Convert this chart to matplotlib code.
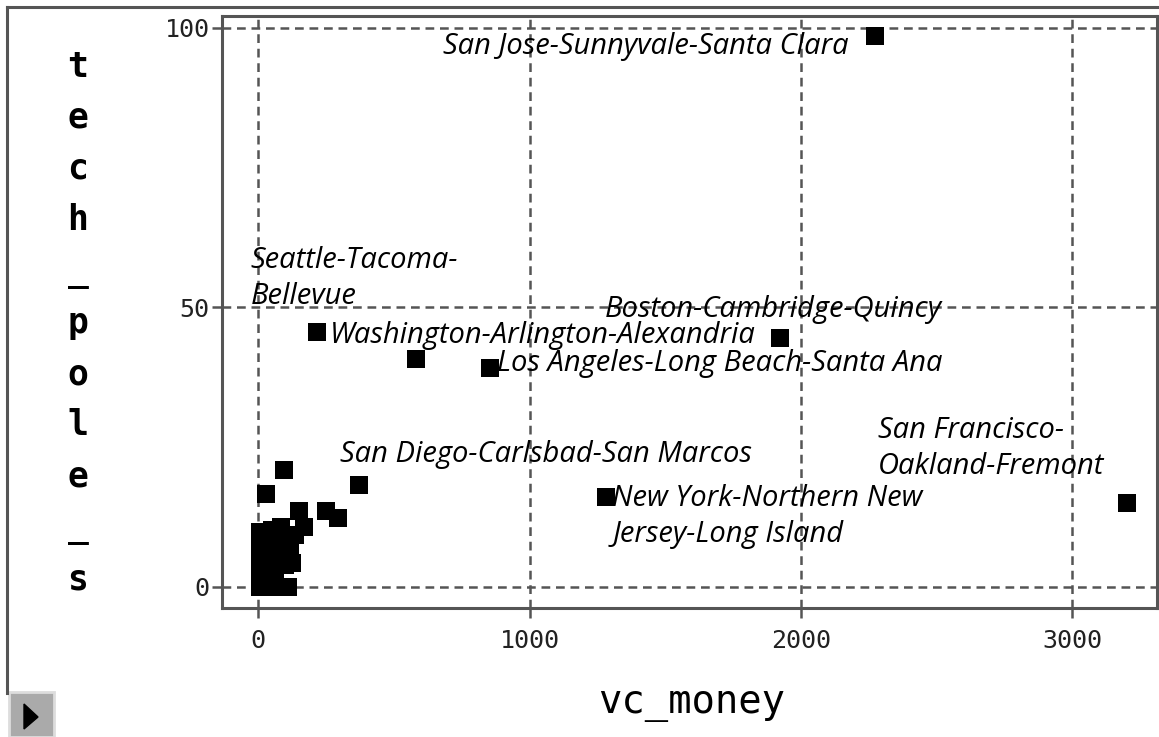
import numpy as np
import matplotlib.pyplot as plt
from matplotlib.patches import Rectangle, Polygon
from matplotlib.lines import Line2D

# vc_money vs tech_pole_s for metro areas
vc_money = [2274, 3203, 1924, 1283, 855, 217, 582, 372,
            96, 30, 151, 251, 295,
            7, 44, 81, 111, 7, 63, 7, 52, 100, 125, 7, 63, 118,
            7, 44, 92, 136, 7, 52, 85, 170, 26, 30, 15]
tech_pole = [98.6, 15.0, 44.5, 16.1, 39.2, 45.6, 40.8, 18.2,
             20.9, 16.6, 13.5, 13.5, 12.4,
             0, 0, 0, 0, 1.6, 1.6, 3.6, 3.9, 3.9, 4.3, 5.7, 6.3, 7.0,
             8.1, 8.4, 8.8, 9.3, 9.8, 10.2, 10.7, 10.7, 7.5, 2.5, 5.0]

labels = ["San Jose-Sunnyvale-Santa Clara",
          "Seattle-Tacoma-\nBellevue",
          "Washington-Arlington-Alexandria",
          "Boston-Cambridge-Quincy",
          "Los Angeles-Long Beach-Santa Ana",
          "San Diego-Carlsbad-San Marcos",
          "San Francisco-\nOakland-Fremont",
          "New York-Northern New\nJersey-Long Island"]
label_x = [682, -29.5, 265, 1279, 881, 302, 2285, 1305]
label_y = [96.6, 55.2, 45.0, 49.6, 39.9, 23.6, 24.8, 12.6]

W, H = 1159, 737
fig = plt.figure(figsize=(W / 100, H / 100), dpi=100)
ax = fig.add_axes([222 / W, 1 - 608 / H, (1157 - 222) / W, (608 - 16) / H])

grey = "#555555"
ax.scatter(vc_money, tech_pole, marker="s", s=165, color="black", linewidths=0, zorder=3)

for t, x, y in zip(labels, label_x, label_y):
    ax.text(x, y, t, fontsize=21, style="italic", family="Open Sans",
            ha="left", va="center", linespacing=1.3, zorder=4)

ax.set_xlim(-134, 3313)
ax.set_ylim(-3.76, 102.1)
ax.set_xticks([0, 1000, 2000, 3000])
ax.set_yticks([0, 50, 100])
ax.grid(True, color=grey, linewidth=1.8, linestyle=(0, (3.5, 2.3)))
ax.set_axisbelow(True)

for s in ax.spines.values():
    s.set_color(grey)
    s.set_linewidth(2.2)

ax.tick_params(direction="out", length=7, width=1.8, color=grey, pad=8,
               labelsize=18, labelcolor="#222222")
for lab in ax.get_xticklabels() + ax.get_yticklabels():
    lab.set_family("DejaVu Sans Mono")
ax.tick_params(axis="y", pad=2)

fig.text(692 / W, 1 - 703 / H, "vc_money", fontsize=28, family="DejaVu Sans Mono",
         ha="center", va="center")
fig.text(78 / W, 1 - 323 / H, "\n".join("tech_pole_s"), fontsize=25,
         family="DejaVu Sans Mono", weight="bold", ha="center", va="center",
         linespacing=1.63)

# outer frame and the little play button
fig.add_artist(Line2D([7 / W, 7 / W], [0.06, 1 - 7 / H], color=grey, lw=2.2))
fig.add_artist(Line2D([7 / W, 1], [1 - 7 / H, 1 - 7 / H], color=grey, lw=2.2))
fig.add_artist(Rectangle((9 / W, 0), 45 / W, 45 / H, facecolor="#aaaaaa",
                         edgecolor="#dddddd", lw=2))
fig.add_artist(Polygon([[24 / W, 8 / H], [24 / W, 33 / H], [38 / W, 20 / H]],
                       closed=True, color="black"))

fig.savefig("out.png", dpi=100)
